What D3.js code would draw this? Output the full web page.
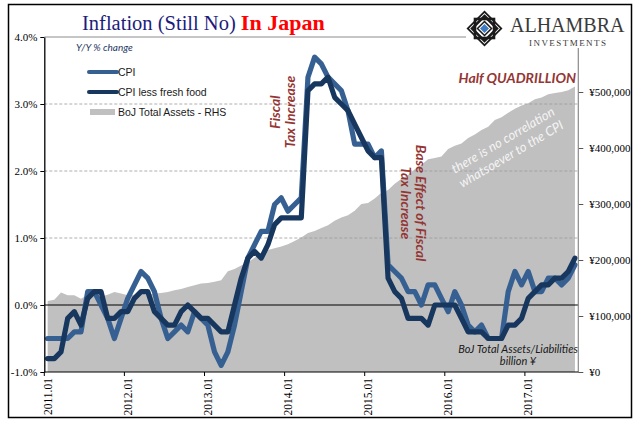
<!DOCTYPE html>
<html><head><meta charset="utf-8">
<script src="https://cdn.jsdelivr.net/npm/d3@7"></script>
<style>
html,body{margin:0;padding:0;background:#fff;}
svg{display:block;}
</style></head>
<body>
<svg id="chart" width="641" height="421"></svg>
<script>
// ---------- DATA ----------
const startYear = 2011;
const nMonths = 80; // 2011.01 .. 2017.08
const xTickLabels = ["2011.01","2012.01","2013.01","2014.01","2015.01","2016.01","2017.01"];
const leftTicks = [-1, 0, 1, 2, 3, 4];
const rightTicks = [0, 100000, 200000, 300000, 400000, 500000];

const cpi = [
 -0.5,-0.5,-0.5,-0.5,-0.4,-0.4, 0.2, 0.2, 0.0,-0.2,-0.5,-0.2,
  0.1, 0.3, 0.5, 0.4, 0.2,-0.2,-0.5,-0.4,-0.3,-0.4,-0.1,-0.2,
 -0.3,-0.7,-0.9,-0.7,-0.3, 0.2, 0.7, 0.9, 1.1, 1.1, 1.5, 1.6,
  1.4, 1.5, 1.6, 3.4, 3.7, 3.6, 3.4, 3.3, 3.2, 2.9, 2.4, 2.4,
  2.4, 2.2, 2.3, 0.6, 0.5, 0.4, 0.2, 0.2, 0.0, 0.3, 0.3, 0.1,
 -0.1, 0.2, 0.0,-0.3,-0.4,-0.3,-0.5,-0.5,-0.5, 0.2, 0.5, 0.3,
  0.5, 0.2, 0.2, 0.4, 0.4, 0.3, 0.4, 0.6
];
const cpiCore = [
 -0.8,-0.8,-0.7,-0.2,-0.1,-0.3, 0.1, 0.2, 0.2,-0.2,-0.2,-0.1,
 -0.1, 0.1, 0.2, 0.2,-0.1,-0.2,-0.3,-0.3,-0.1, 0.0,-0.1,-0.2,
 -0.2,-0.3,-0.4,-0.4, 0.0, 0.4, 0.7, 0.8, 0.7, 0.9, 1.2, 1.3,
  1.3, 1.3, 1.3, 3.2, 3.3, 3.3, 3.4, 3.1, 3.0, 2.9, 2.7, 2.5,
  2.3, 2.2, 2.2, 0.4, 0.2, 0.1,-0.2,-0.2,-0.2,-0.3, 0.0, 0.0,
  0.0, 0.0,-0.2,-0.4,-0.4,-0.4,-0.5,-0.5,-0.5,-0.3,-0.3,-0.2,
  0.1, 0.2, 0.3, 0.3, 0.4, 0.4, 0.5, 0.7
];
const bojAssets = [ // billion yen
 127000,129000,142000,137000,137000,131000,138000,136000,135000,138000,143000,140000,
 137000,138000,140000,138000,140000,141000,143000,146000,148000,152000,155000,158000,
 159000,161000,164000,180000,184000,190000,196000,204000,212000,218000,221000,224000,
 228000,234000,240000,248000,252000,257000,262000,270000,276000,280000,288000,300000,
 302000,310000,320000,325000,336000,345000,352000,362000,370000,380000,382000,385000,
 398000,404000,408000,418000,424000,432000,438000,450000,455000,463000,470000,476000,
 480000,487000,490000,496000,498000,500000,503000,510000
];

const months = [];
for (let i = 0; i < nMonths; i++) {
  const y = startYear + Math.floor(i / 12), m = (i % 12) + 1;
  months.push(y + "." + (m < 10 ? "0" + m : m));
}

// ---------- LAYOUT ----------
const svg = d3.select("#chart");
const L = 44.3, R = 578.3, T = 37, B = 372;
const serif = "'Liberation Serif', 'Times New Roman', serif";
const sans = "'Liberation Sans', Arial, sans-serif";
const hand = "Lato, 'Open Sans', sans-serif";

const x = d3.scaleBand().domain(months).range([L, R]).paddingInner(0).paddingOuter(0);
const cx = d => x(d) + x.bandwidth() / 2;
const yL = d3.scaleLinear().domain([-1, 4]).range([B, T]);
const yR = d3.scaleLinear().domain([0, 600000]).range([B, T - 1]);

// outer frame
svg.append("rect").attr("x", 8.5).attr("y", 4.5).attr("width", 623).attr("height", 413)
  .attr("fill", "#fff").attr("stroke", "#000").attr("stroke-width", 1.5);

// area
const area = d3.area().x((d, i) => cx(months[i])).y0(yR(0)).y1(d => yR(d));
svg.append("path").datum(bojAssets).attr("d", area).attr("fill", "#c0c0c0");

// gridlines
svg.append("g").selectAll("line").data([1, 2, 3]).join("line")
  .attr("x1", L).attr("x2", R).attr("y1", d => yL(d)).attr("y2", d => yL(d))
  .attr("stroke", "#9a9a9a").attr("stroke-width", 0.8).attr("stroke-dasharray", "3,2");
svg.append("line").attr("x1", L).attr("x2", 466).attr("y1", yL(4)).attr("y2", yL(4))
  .attr("stroke", "#8c8c8c").attr("stroke-width", 1);

// zero line
svg.append("line").attr("x1", L).attr("x2", R).attr("y1", yL(0)).attr("y2", yL(0))
  .attr("stroke", "#000").attr("stroke-width", 1.2);

// lines
const line = d3.line().x((d, i) => cx(months[i])).y(d => yL(d));
svg.append("path").datum(cpi).attr("d", line).attr("fill", "none")
  .attr("stroke", "#376092").attr("stroke-width", 5.2).attr("stroke-linejoin", "round").attr("stroke-linecap", "round");
svg.append("path").datum(cpiCore).attr("d", line).attr("fill", "none")
  .attr("stroke", "#17375e").attr("stroke-width", 5.2).attr("stroke-linejoin", "round").attr("stroke-linecap", "round");

// left axis
const gL = svg.append("g").attr("transform", `translate(${L},0)`)
  .call(d3.axisLeft(yL).tickValues(leftTicks).tickFormat(d => d.toFixed(1) + "%").tickSize(4).tickPadding(3).tickSizeOuter(0));
gL.select(".domain").attr("stroke", "#000").attr("stroke-width", 1.3);
gL.selectAll(".tick line").attr("stroke", "#000");
gL.selectAll("text").attr("font-family", serif).attr("font-size", 11).attr("fill", "#000");

// right axis
const gR = svg.append("g").attr("transform", `translate(${R},0)`)
  .call(d3.axisRight(yR).tickValues(rightTicks).tickFormat(d => "¥" + d3.format(",")(d)).tickSize(5).tickPadding(6).tickSizeOuter(0));
gR.select(".domain").remove();
gR.append("line").attr("x1", 0).attr("x2", 0).attr("y1", 48).attr("y2", B).attr("stroke", "#8a8a8a").attr("stroke-width", 1.2);
gR.selectAll(".tick line").attr("stroke", "#555");
gR.selectAll("text").attr("font-family", serif).attr("font-size", 11).attr("fill", "#000");

// bottom axis
svg.append("line").attr("x1", L).attr("x2", R).attr("y1", B).attr("y2", B).attr("stroke", "#000").attr("stroke-width", 1.2);
const tickMonths = months.filter(m => xTickLabels.includes(m));
svg.append("g").selectAll("line").data(tickMonths).join("line")
  .attr("x1", d => x(d)).attr("x2", d => x(d)).attr("y1", B).attr("y2", B + 4)
  .attr("stroke", "#000");
svg.append("g").selectAll("text").data(tickMonths).join("text")
  .attr("transform", d => `translate(${cx(d)},${B + 6}) rotate(-90)`)
  .attr("text-anchor", "end").attr("dy", "0.35em")
  .attr("font-family", serif).attr("font-size", 11.5).attr("fill", "#000")
  .text(d => d);

// legend
svg.append("text").attr("x", 76).attr("y", 51).attr("font-family", hand).attr("font-style", "italic")
  .attr("font-size", 10).attr("fill", "#1f3864").text("Y/Y % change");
const legend = [
  {label: "CPI", color: "#376092", w: 4, y: 72},
  {label: "CPI less fresh food", color: "#17375e", w: 4, y: 92},
  {label: "BoJ Total Assets - RHS", color: "#c0c0c0", w: 6, y: 112}
];
const lg = svg.append("g");
lg.selectAll("line").data(legend).join("line")
  .attr("x1", (d, i) => i === 2 ? 90 : 89).attr("x2", (d, i) => i === 2 ? 115 : 117)
  .attr("y1", d => d.y).attr("y2", d => d.y).attr("stroke", d => d.color)
  .attr("stroke-width", d => d.w).attr("stroke-linecap", (d, i) => i === 2 ? "butt" : "round");
lg.selectAll("text").data(legend).join("text")
  .attr("x", 118).attr("y", d => d.y).attr("dy", "0.35em")
  .attr("font-family", sans).attr("font-size", 10.5).attr("fill", "#1a1a1a").text(d => d.label);

// title
const title = svg.append("text").attr("x", 82).attr("y", 30).attr("font-family", serif).attr("font-size", 20.5);
title.append("tspan").attr("fill", "#1c1c7c").text("Inflation (Still No) ");
title.append("tspan").attr("fill", "#ff0000").attr("font-weight", "bold").attr("font-size", 22).text("In Japan");

// annotations
const red = "#943634";
function multi(xc, yc, rot, lines, opts) {
  const g = svg.append("g").attr("transform", `translate(${xc},${yc}) rotate(${rot})`);
  lines.forEach((t, i) => {
    g.append("text").attr("x", 0).attr("y", (i - (lines.length - 1) / 2) * opts.lh)
      .attr("dy", "0.35em").attr("text-anchor", "middle")
      .attr("font-family", hand).attr("font-style", "italic").attr("font-weight", opts.weight || "normal")
      .attr("font-size", opts.size).attr("fill", opts.color).text(t);
  });
}
multi(283, 112, -90, ["Fiscal", "Tax Increase"], {lh: 15, size: 14, color: red, weight: "bold"});
multi(413, 203, 90, ["Base Effect of Fiscal", "Tax Increase"], {lh: 15, size: 14, color: red, weight: "bold"});
multi(507, 147, -30.5, ["there is no correlation", "whatsoever  to the CPI"], {lh: 16, size: 13, color: "#f4f4f4"});
multi(518, 355, 0, ["BoJ Total Assets/Liabilities", "billion ¥"], {lh: 12.5, size: 11, color: "#1a1a1a"});

svg.append("text").attr("x", 576).attr("y", 83).attr("text-anchor", "end")
  .attr("font-family", hand).attr("font-style", "italic").attr("font-weight", "bold")
  .attr("font-size", 14).attr("fill", red).text("Half QUADRILLION");

// logo
const logo = svg.append("g").attr("transform", "translate(484.5,28.5)");
const dia = r => `M0,${-r}L${r},0L0,${r}L${-r},0Z`;
logo.append("path").attr("d", dia(18)).attr("fill", "#1a1a1a");
logo.append("path").attr("d", dia(15.5)).attr("fill", "#fff");
logo.append("rect").attr("x", -9.5).attr("y", -9.5).attr("width", 19).attr("height", 19)
  .attr("fill", "none").attr("stroke", "#1a1a1a").attr("stroke-width", 2.6);
logo.append("path").attr("d", dia(12.5)).attr("fill", "none").attr("stroke", "#1a1a1a").attr("stroke-width", 2.6);
logo.append("path").attr("d", dia(7)).attr("fill", "#fff").attr("stroke", "#1a1a1a").attr("stroke-width", 1.5);
logo.append("path").attr("d", dia(4.5)).attr("fill", "#3f7ac4");
svg.append("text").attr("transform", "translate(510,31.5) scale(0.91,1)").attr("font-family", serif).attr("font-size", 22)
  .attr("fill", "#3a3a3a").text("ALHAMBRA");
svg.append("text").attr("x", 529).attr("y", 45.5).attr("font-family", serif).attr("font-size", 9)
  .attr("fill", "#3a3a3a").attr("textLength", 77).attr("lengthAdjust", "spacing").text("INVESTMENTS");
</script>
</body></html>
